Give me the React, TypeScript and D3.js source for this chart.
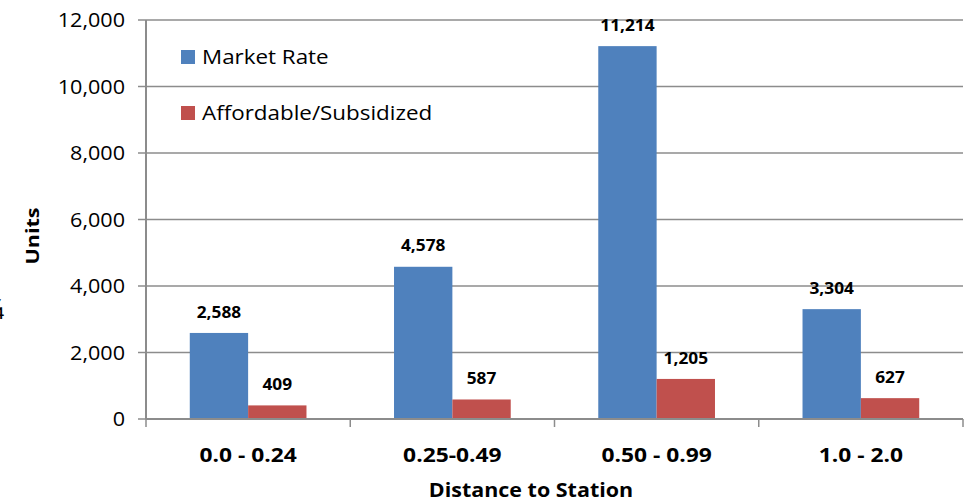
import React from "react";
import * as d3 from "d3";

const categories = ["0.0 - 0.24", "0.25-0.49", "0.50 - 0.99", "1.0 - 2.0"];
const seriesNames = ["Market Rate", "Affordable/Subsidized"];
const marketRate = [2588, 4578, 11214, 3304];
const affordable = [409, 587, 1205, 627];
const yTicks = [0, 2000, 4000, 6000, 8000, 10000, 12000];

const colors = ["#4F81BD", "#C0504D"];
const font = "'Open Sans', sans-serif";

const width = 969;
const height = 501;
const margin = { top: 20, right: 6, bottom: 82, left: 146 };

// the reference text looks a bit wider than it is tall, so stretch it slightly
const Label: React.FC<{
  x: number;
  y: number;
  sx?: number;
  anchor?: "start" | "middle" | "end";
  size: number;
  bold?: boolean;
  rotate?: number;
  children: React.ReactNode;
}> = ({ x, y, sx = 1, anchor = "start", size, bold, rotate = 0, children }) => (
  <text
    transform={`translate(${x},${y}) rotate(${rotate}) scale(${sx},1)`}
    dy="0.35em"
    textAnchor={anchor}
    fontSize={size}
    fontWeight={bold ? "bold" : "normal"}
    fill="#000"
  >
    {children}
  </text>
);

const App: React.FC = () => {
  const series = [marketRate, affordable];

  const x = d3
    .scaleBand()
    .domain(categories)
    .range([margin.left, width - margin.right])
    .paddingInner(0)
    .paddingOuter(0);

  const inner = d3
    .scaleBand()
    .domain(seriesNames)
    .range([0, x.bandwidth()])
    .paddingInner(0)
    .paddingOuter(0.75);

  const y = d3
    .scaleLinear()
    .domain([0, 12000])
    .range([height - margin.bottom, margin.top]);

  const fmt = d3.format(",");
  const boundaries = [...categories.map((c) => x(c) as number), width - margin.right];

  return (
    <svg
      width={width}
      height={height}
      style={{ position: "absolute", left: 0, top: 0, background: "#fff" }}
      fontFamily={font}
    >
      {/* gridlines */}
      {yTicks.slice(1).map((t) => (
        <line
          key={t}
          x1={margin.left}
          x2={width - margin.right}
          y1={y(t)}
          y2={y(t)}
          stroke="#8c8c8c"
          strokeWidth={1.5}
        />
      ))}

      {/* bars */}
      {categories.map((c, i) =>
        seriesNames.map((s, j) => {
          const bx = (x(c) as number) + (inner(s) as number);
          const v = series[j][i];
          return (
            <rect
              key={c + s}
              x={bx}
              y={y(v)}
              width={inner.bandwidth()}
              height={y(0) - y(v)}
              fill={colors[j]}
            />
          );
        })
      )}

      {/* value labels */}
      {categories.map((c, i) =>
        seriesNames.map((s, j) => {
          const bx = (x(c) as number) + (inner(s) as number) + inner.bandwidth() / 2;
          const v = series[j][i];
          return (
            <Label key={"l" + c + s} x={bx} y={y(v) - 21} sx={1.08} anchor="middle" size={16} bold>
              {fmt(v)}
            </Label>
          );
        })
      )}

      {/* y axis */}
      <line x1={margin.left} x2={margin.left} y1={margin.top} y2={y(0)} stroke="#8c8c8c" strokeWidth={2} />
      {yTicks.map((t) => (
        <g key={"yt" + t}>
          <line x1={margin.left - 8} x2={margin.left} y1={y(t)} y2={y(t)} stroke="#8c8c8c" strokeWidth={1.5} />
          <Label x={margin.left - 21} y={y(t)} sx={1.08} anchor="end" size={20}>
            {fmt(t)}
          </Label>
        </g>
      ))}

      {/* x axis */}
      <line x1={margin.left} x2={width - margin.right} y1={y(0)} y2={y(0)} stroke="#8c8c8c" strokeWidth={2} />
      {boundaries.map((bx, i) => (
        <line key={"xt" + i} x1={bx} x2={bx} y1={y(0)} y2={y(0) + 8} stroke="#8c8c8c" strokeWidth={1.5} />
      ))}
      {categories.map((c) => (
        <Label
          key={"xl" + c}
          x={(x(c) as number) + x.bandwidth() / 2}
          y={455}
          sx={1.14}
          anchor="middle"
          size={20}
          bold
        >
          {c}
        </Label>
      ))}

      {/* axis titles */}
      <Label x={531} y={490} sx={1.13} anchor="middle" size={19} bold>
        Distance to Station
      </Label>
      <Label x={33} y={236} sx={1.2} anchor="middle" size={18} bold rotate={-90}>
        Units
      </Label>

      {/* clipped "¼" glyph at the left edge */}
      <text x={-16} y={319} fontSize={27} fill="#000">
        ¼
      </text>

      {/* legend */}
      {seriesNames.map((s, j) => (
        <g key={"lg" + s} transform={`translate(181,${50 + j * 56})`}>
          <rect width={14} height={14} fill={colors[j]} />
          <Label x={21} y={7} sx={1.12} size={20}>
            {s}
          </Label>
        </g>
      ))}
    </svg>
  );
};

export default App;
